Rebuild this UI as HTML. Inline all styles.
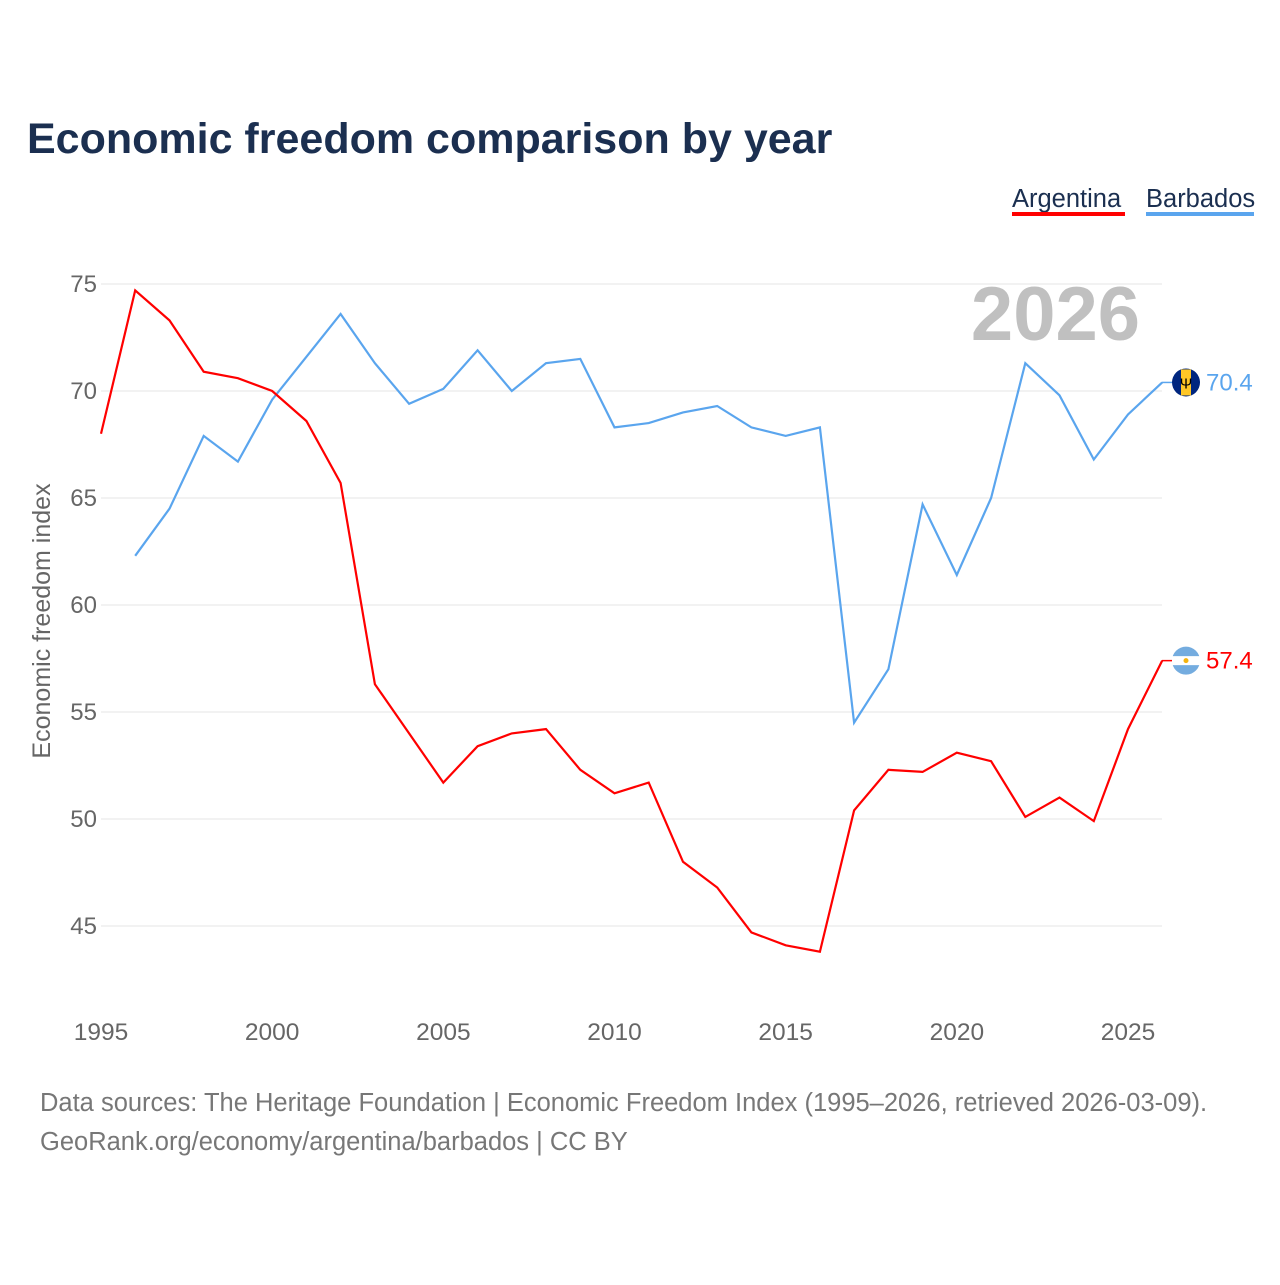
<!DOCTYPE html>
<html><head><meta charset="utf-8"><style>
body{margin:0;background:#fff;width:1280px;height:1280px;overflow:hidden;font-family:"Liberation Sans",sans-serif}
</style></head><body>
<svg width="1280" height="1280" xmlns="http://www.w3.org/2000/svg">
<text x="27" y="153" font-size="43" font-weight="bold" fill="#1b2f50">Economic freedom comparison by year</text>
<g>
<text x="1012" y="207" font-size="25.5" fill="#1b2f50">Argentina</text>
<rect x="1012" y="212" width="113" height="4" fill="#ff0000"/>
<text x="1146" y="207" font-size="25.5" fill="#1b2f50">Barbados</text>
<rect x="1146" y="212" width="108" height="4" fill="#5aa5ee"/>
</g>
<text x="1140" y="340" font-size="76" font-weight="bold" fill="#c0c0c0" text-anchor="end">2026</text>
<g id="grid"></g>
<g id="ylab"></g>
<g id="xlab"></g>
<text transform="translate(50,621) rotate(-90)" font-size="25" fill="#666" text-anchor="middle">Economic freedom index</text>
<g id="lines"></g>
<text x="40" y="1111" font-size="25.5" fill="#777">Data sources: The Heritage Foundation | Economic Freedom Index (1995–2026, retrieved 2026-03-09).</text>
<text x="40" y="1150" font-size="25.5" fill="#777">GeoRank.org/economy/argentina/barbados | CC BY</text>
</svg>
<script>
const years=[1995,1996,1997,1998,1999,2000,2001,2002,2003,2004,2005,2006,2007,2008,2009,2010,2011,2012,2013,2014,2015,2016,2017,2018,2019,2020,2021,2022,2023,2024,2025,2026];
const argentina=[68.0,74.7,73.3,70.9,70.6,70.0,68.6,65.7,56.3,54.0,51.7,53.4,54.0,54.2,52.3,51.2,51.7,48.0,46.8,44.7,44.1,43.8,50.4,52.3,52.2,53.1,52.7,50.1,51.0,49.9,54.2,57.4];
const barbados=[null,62.3,64.5,67.9,66.7,69.6,71.6,73.6,71.3,69.4,70.1,71.9,70.0,71.3,71.5,68.3,68.5,69.0,69.3,68.3,67.9,68.3,54.5,57.0,64.7,61.4,65.0,71.3,69.8,66.8,68.9,70.4];
const yTicks=[45,50,55,60,65,70,75];
const xTicks=[1995,2000,2005,2010,2015,2020,2025];
const NS="http://www.w3.org/2000/svg";
const x=v=>101+(v-1995)*(1128-101)/30;
const y=v=>284+(75-v)*21.4;
function mk(tag,attrs,parent,txt){const e=document.createElementNS(NS,tag);for(const k in attrs)e.setAttribute(k,attrs[k]);if(txt!==undefined)e.textContent=txt;parent.appendChild(e);return e;}
const grid=document.getElementById('grid'),yl=document.getElementById('ylab'),xl=document.getElementById('xlab'),lines=document.getElementById('lines');
yTicks.forEach(t=>{
 const l=mk('line',{x1:101,x2:1162,y1:y(t),y2:y(t),stroke:'#e6e6e6','stroke-width':1},grid);
 
 
 const tx=mk('text',{x:97,y:y(t)+8,'font-size':24,fill:'#666','text-anchor':'end'},yl,String(t));
 
 
});
xTicks.forEach(t=>{
 const tx=mk('text',{x:x(t),y:1040,'font-size':24.5,fill:'#666','text-anchor':'middle'},xl,String(t));
 
 
});
function series(vals,color,name){
 let d='';vals.forEach((v,i)=>{if(v==null)return;d+=(d?'L':'M')+x(years[i]).toFixed(1)+','+y(v).toFixed(1);});
 const p=mk('path',{d:d,fill:'none',stroke:color,'stroke-width':2.2},lines);
 
 
 const last=vals[vals.length-1],ly=y(last);
 mk('line',{x1:1162,x2:1172,y1:ly,y2:ly,stroke:color,'stroke-width':1.5},lines);
 const c=mk('circle',{cx:1186,cy:ly,r:14,fill:name==='argentina'?'#74acdf':'#00267f'},lines);
 
 
 if(name==='argentina'){mk('rect',{x:1172,y:ly-4.5,width:28,height:9,fill:'#fff'},lines);mk('circle',{cx:1186,cy:ly,r:2.5,fill:'#f6b40e'},lines);}
 else{mk('rect',{x:1181,y:ly-13,width:10,height:26,fill:'#ffc726'},lines);mk('text',{x:1186,y:ly+6,'font-size':15,'text-anchor':'middle',fill:'#000'},lines,'Ψ');}
 const t=mk('text',{x:1206,y:ly+8,'font-size':24,fill:color},lines,last.toFixed(1));
 
 
}
series(barbados,'#5aa5ee','barbados');
series(argentina,'#ff0000','argentina');
</script>
</body></html>
